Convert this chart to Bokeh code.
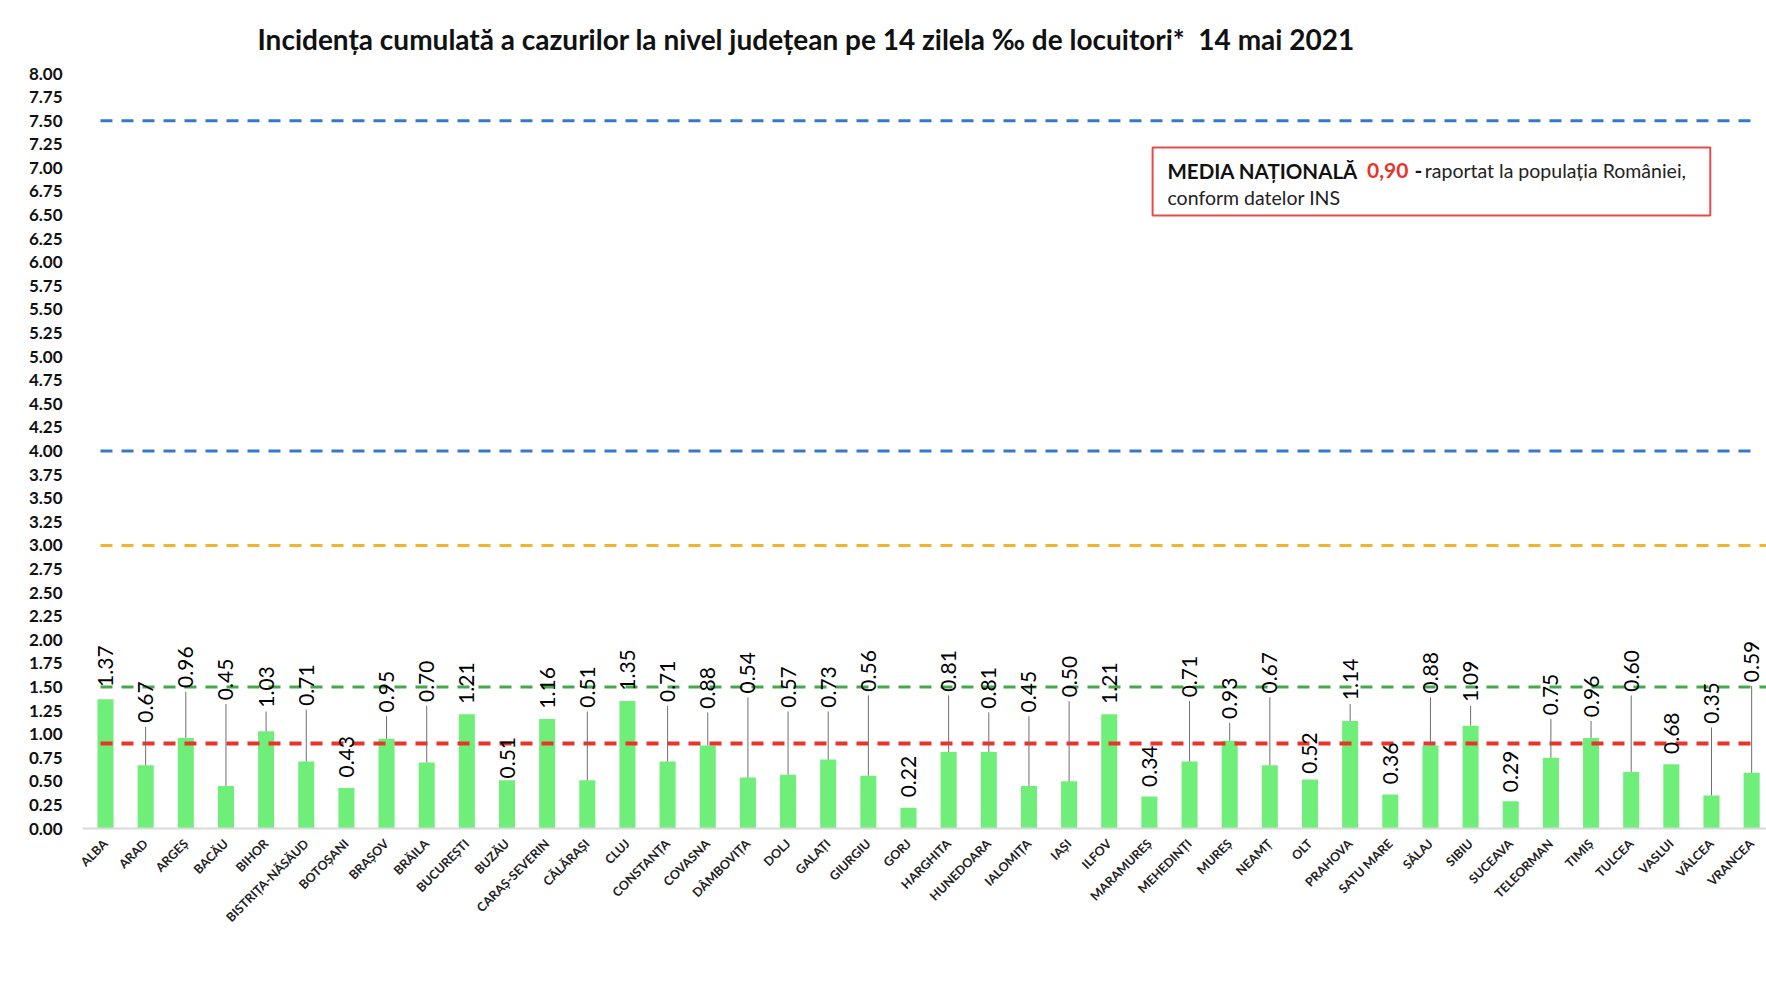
import math
from bokeh.plotting import figure
from bokeh.models import Range1d, FixedTicker, NumeralTickFormatter, BoxAnnotation, Label, ColumnDataSource
from bokeh.core.properties import value
from bokeh.embed import file_html
from bokeh.resources import INLINE

counties = ["ALBA", "ARAD", "ARGEȘ", "BACĂU", "BIHOR", "BISTRIȚA-NĂSĂUD", "BOTOȘANI", "BRAȘOV",
            "BRĂILA", "BUCUREȘTI", "BUZĂU", "CARAȘ-SEVERIN", "CĂLĂRAȘI", "CLUJ", "CONSTANȚA",
            "COVASNA", "DÂMBOVIȚA", "DOLJ", "GALAȚI", "GIURGIU", "GORJ", "HARGHITA", "HUNEDOARA",
            "IALOMIȚA", "IAȘI", "ILFOV", "MARAMUREȘ", "MEHEDINȚI", "MUREȘ", "NEAMȚ", "OLT",
            "PRAHOVA", "SATU MARE", "SĂLAJ", "SIBIU", "SUCEAVA", "TELEORMAN", "TIMIȘ", "TULCEA",
            "VASLUI", "VÂLCEA", "VRANCEA"]
incidence = [1.37, 0.67, 0.96, 0.45, 1.03, 0.71, 0.43, 0.95, 0.70, 1.21, 0.51, 1.16, 0.51, 1.35,
             0.71, 0.88, 0.54, 0.57, 0.73, 0.56, 0.22, 0.81, 0.81, 0.45, 0.50, 1.21, 0.34, 0.71,
             0.93, 0.67, 0.52, 1.14, 0.36, 0.88, 1.09, 0.29, 0.75, 0.96, 0.60, 0.68, 0.35, 0.59]
# height at which each value label starts
label_pos = [1.50, 1.12, 1.49, 1.36, 1.28, 1.30, 0.54, 1.23, 1.34, 1.32, 0.53, 1.27, 1.28, 1.46,
             1.34, 1.27, 1.43, 1.28, 1.28, 1.45, 0.33, 1.45, 1.27, 1.23, 1.39, 1.32, 0.44, 1.39,
             1.16, 1.43, 0.58, 1.36, 0.47, 1.43, 1.34, 0.385, 1.20, 1.18, 1.45, 0.79, 1.11, 1.55]
y_ticks = [i * 0.25 for i in range(33)]
thresholds = [7.5, 4.0, 3.0, 1.5, 0.9]
threshold_colors = ["#3579cc", "#3579cc", "#f0b42e", "#45a84a", "#e8352c"]
threshold_widths = [3, 3, 3, 3, 4]
threshold_end = [41.0, 41.0, 41.4, 41.4, 41.0]

title_text = "Incidența cumulată a cazurilor la nivel județean pe 14 zilela ‰ de locuitori*\u00a0\u00a014 mai 2021"

FONT = "Lato"
n = len(counties)
xs = list(range(n))

p = figure(width=1766, height=982, output_backend="svg", toolbar_location=None,
           x_range=Range1d(-0.573, 41.37), y_range=Range1d(0, 8),
           min_border_left=82, min_border_right=0, min_border_top=73, min_border_bottom=154)
p.outline_line_color = None
p.xgrid.grid_line_color = None
p.ygrid.grid_line_color = None
p.background_fill_color = "white"
p.border_fill_color = "white"

p.title.text = title_text
p.title.text_font = FONT
p.title.text_font_size = "28px"
p.title.text_font_style = "bold"
p.title.text_color = "#111111"
p.title.align = "left"
p.title.offset = 175
p.title.standoff = 36

# y axis
p.yaxis.ticker = FixedTicker(ticks=y_ticks)
p.yaxis.formatter = NumeralTickFormatter(format="0.00")
p.yaxis.axis_line_color = None
p.yaxis.major_tick_line_color = None
p.yaxis.major_tick_out = 0
p.yaxis.major_tick_in = 0
p.yaxis.minor_tick_line_color = None
p.yaxis.major_label_standoff = 20
p.yaxis.major_label_text_font = FONT
p.yaxis.major_label_text_font_size = "17px"
p.yaxis.major_label_text_font_style = "bold"
p.yaxis.major_label_text_color = "#111111"

# x axis
p.xaxis.ticker = FixedTicker(ticks=xs)
p.xaxis.major_label_overrides = {i: c for i, c in enumerate(counties)}
p.xaxis.major_label_orientation = math.pi / 4
p.xaxis.axis_line_color = "#d9d9d9"
p.xaxis.axis_line_width = 2
p.xaxis.major_tick_line_color = None
p.xaxis.major_tick_out = 0
p.xaxis.major_tick_in = 0
p.xaxis.minor_tick_line_color = None
p.xaxis.major_label_standoff = 13
p.xaxis.major_label_text_font = FONT
p.xaxis.major_label_text_font_size = "12.5px"
p.xaxis.major_label_text_font_style = "bold"
p.xaxis.major_label_text_color = "#222222"

# bars
p.vbar(x=xs, top=incidence, width=0.4, fill_color="#70ee7a", line_color=None)

# threshold lines
p.segment(x0=[-0.125] * len(thresholds), x1=threshold_end, y0=thresholds, y1=thresholds,
          line_color=threshold_colors, line_width=threshold_widths, line_dash="12 9")

# leader lines
lx, ly0, ly1 = [], [], []
for i, (v, lp) in enumerate(zip(incidence, label_pos)):
    if lp - v > 0.15:
        lx.append(i)
        ly0.append(lp - 0.04)
        ly1.append(v)
p.segment(x0=lx, x1=lx, y0=ly0, y1=ly1, line_color="#6f6f6f", line_width=1)

# value labels
src = ColumnDataSource(dict(x=xs, y=label_pos, t=[f"{v:.2f}" for v in incidence]))
p.text(x="x", y="y", text="t", source=src, angle=math.pi / 2, text_align="left",
       text_baseline="middle", text_font=value(FONT), text_font_size="21px", text_color="#000000")

# national average box
p.add_layout(BoxAnnotation(left=26.08, right=39.97, bottom=6.495, top=7.216,
                           fill_color="white", fill_alpha=1.0, line_color="#e84a4a",
                           line_alpha=1.0, line_width=2))
p.add_layout(Label(x=26.45, y=6.97, text="MEDIA NAȚIONALĂ", text_font=FONT, text_font_size="20.5px",
                   text_font_style="bold", text_color="#111111", text_baseline="alphabetic"))
p.add_layout(Label(x=31.42, y=6.97, text="0,90", text_font=FONT, text_font_size="21px",
                   text_font_style="bold", text_color="#e8352c", text_baseline="alphabetic"))
p.add_layout(Label(x=32.6, y=6.97, text="-", text_font=FONT, text_font_size="21px",
                   text_font_style="bold", text_color="#111111", text_baseline="alphabetic"))
p.add_layout(Label(x=32.86, y=6.97, text="raportat la populația României,", text_font=FONT,
                   text_font_size="19.5px", text_color="#222222", text_baseline="alphabetic"))
p.add_layout(Label(x=26.45, y=6.69, text="conform datelor INS", text_font=FONT,
                   text_font_size="19.5px", text_color="#222222", text_baseline="alphabetic"))

open("out.html", "w").write(file_html(p, INLINE))
